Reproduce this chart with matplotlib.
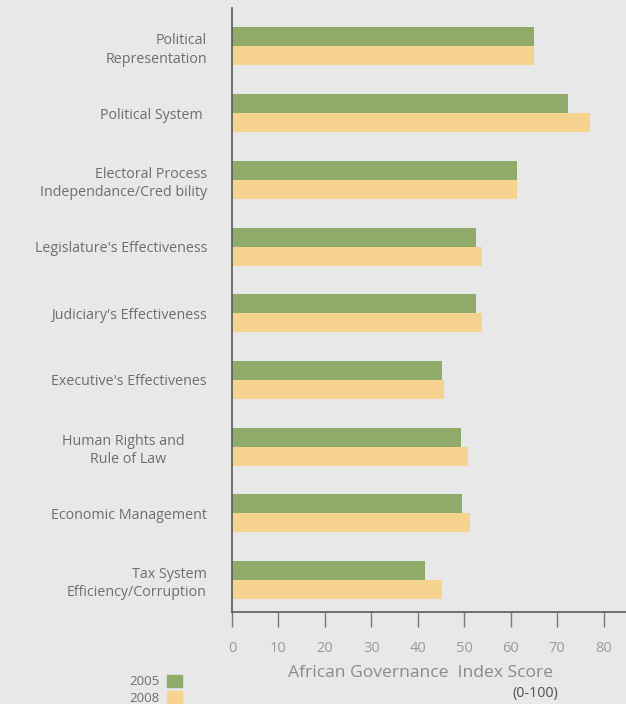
import numpy as np
import matplotlib.pyplot as plt
from matplotlib.patches import Patch

# indicadores (de cima para baixo)
categorias = [
    'Political\nRepresentation',
    'Political System ',
    'Electoral Process\nIndependance/Cred bility',
    "Legislature's Effectiveness",
    "Judiciary's Effectiveness",
    "Executive's Effectivenes",
    'Human Rights and      \nRule of Law           ',
    'Economic Management',
    'Tax System\nEfficiency/Corruption',
]
anos = ['2005', '2008']
valores_2005 = [65.0, 72.3, 61.4, 52.5, 52.6, 45.1, 49.2, 49.4, 41.5]
valores_2008 = [65.0, 77.0, 61.3, 53.7, 53.7, 45.6, 50.8, 51.2, 45.1]
xticks = [0, 10, 20, 30, 40, 50, 60, 70, 80]

verde = '#8faa69'
amarelo = '#f6d48f'
fundo = '#e8e8e8'
cinza = '#6e6e6e'

plt.rcParams['font.family'] = ['Open Sans', 'DejaVu Sans']

fig = plt.figure(figsize=(6.26, 7.04), dpi=100, facecolor=fundo)
ax = fig.add_axes([232 / 626, 1 - 612 / 704, 1 - 232 / 626, (612 - 8) / 704])
ax.set_facecolor(fundo)

y = np.arange(len(categorias))
h = 0.285
ax.barh(y - h / 2, valores_2005, height=h, color=verde, label=anos[0])
ax.barh(y + h / 2, valores_2008, height=h, color=amarelo, label=anos[1])

ax.set_ylim(8.48, -0.577)
ax.set_xlim(0, 84.8)

ax.set_yticks(y)
ax.set_yticklabels(categorias, fontsize=10.3, color=cinza, linespacing=1.3)
ax.tick_params(axis='y', length=0, pad=18)

ax.set_xticks(xticks)
ax.set_xticklabels([str(t) for t in xticks], fontsize=10.5, color='#9a9a9a')
ax.tick_params(axis='x', direction='out', length=11, width=1, color='#777777', pad=10)

for lado in ['top', 'right']:
    ax.spines[lado].set_visible(False)
for lado in ['left', 'bottom']:
    ax.spines[lado].set_color('#5a5a5a')
    ax.spines[lado].set_linewidth(1.2)

fig.text(421 / 626, 1 - 673 / 704, 'African Governance  Index Score',
         ha='center', va='center', fontsize=12.6, color='#8a8a8a')
fig.text(535 / 626, 1 - 693 / 704, '(0-100)',
         ha='center', va='center', fontsize=10.3, color='#505050')

handles = [Patch(color=verde), Patch(color=amarelo)]
fig.legend(handles, anos, loc='upper right', bbox_to_anchor=(189 / 626, 1 - 668 / 704),
           frameon=False, markerfirst=False, handlelength=1.15, handleheight=1.1,
           handletextpad=0.6, labelspacing=0.2, borderpad=0, fontsize=9.5,
           labelcolor=cinza)

plt.savefig('out.png', dpi=100, facecolor=fundo)
plt.close()
